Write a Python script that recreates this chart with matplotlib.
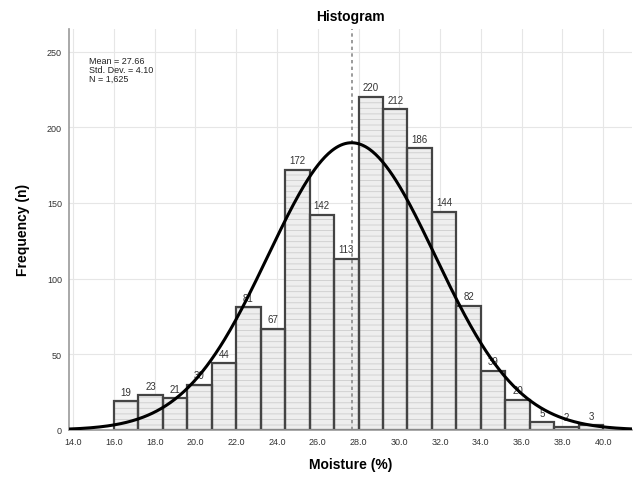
import numpy as np
import matplotlib
matplotlib.use("Agg")
import matplotlib.pyplot as plt

plt.rcParams['font.family'] = ['Liberation Sans', 'DejaVu Sans']
plt.rcParams['hatch.linewidth'] = 0.6

bin_start = 16.0
bin_width = 1.2
counts = [19, 23, 21, 30, 44, 81, 67, 172, 142, 113, 220, 212, 186, 144, 82, 39, 20, 5, 2, 3]
mean = 27.66
std = 4.10
n = 1625
xticks = [14.0, 16.0, 18.0, 20.0, 22.0, 24.0, 26.0, 28.0, 30.0, 32.0, 34.0, 36.0, 38.0, 40.0]
yticks = [0, 50, 100, 150, 200, 250]

fig = plt.figure(figsize=(6.33, 4.81), dpi=100)
ax = fig.add_axes([0.109, 0.104, 0.889, 0.834])

edges = bin_start + bin_width * np.arange(len(counts) + 1)
lefts = edges[:-1]
# hatched light fill
ax.bar(lefts, counts, width=bin_width, align='edge', facecolor='#eeeeee',
       edgecolor='#cdcdcd', linewidth=0, hatch='---', zorder=2)
# outlines
ax.bar(lefts, counts, width=bin_width, align='edge', facecolor='none',
       edgecolor='#444444', linewidth=1.6, zorder=2.5)
for l, c in zip(lefts, counts):
    ax.text(l + bin_width / 2, c + 3, str(c), ha='center', va='bottom',
            fontsize=7, color='#333333', zorder=3)

xs = np.linspace(13.8, 41.4, 500)
ys = n * bin_width / (std * np.sqrt(2 * np.pi)) * np.exp(-0.5 * ((xs - mean) / std) ** 2)
ax.plot(xs, ys, color='black', linewidth=2.2, zorder=4)

ax.axvline(mean, color='#8a8a8a', linestyle=(0, (2, 2)), linewidth=1.2, zorder=3)

ax.set_xlim(13.8, 41.4)
ax.set_ylim(0, 265)
ax.set_xticks(xticks)
ax.set_xticklabels([f"{t:.1f}" for t in xticks])
ax.set_yticks(yticks)
ax.tick_params(axis='both', length=0, labelsize=6.5, labelcolor='#333333', pad=5)
ax.grid(True, color='#e6e6e6', linewidth=0.8, zorder=0)
ax.set_axisbelow(True)
for s in ['top', 'right']:
    ax.spines[s].set_visible(False)
ax.spines['left'].set_color('#999999')
ax.spines['left'].set_linewidth(1.2)
ax.spines['bottom'].set_color('#999999')
ax.spines['bottom'].set_linewidth(1.2)

ax.text(14.8, 247, f"Mean = {mean:.2f}\nStd. Dev. = {std:.2f}\nN = {n:,}",
        fontsize=6.5, va='top', ha='left', color='#222222', linespacing=1.0)

ax.set_title("Histogram", fontsize=10, fontweight='bold', pad=6)
ax.set_xlabel("Moisture (%)", fontsize=10, fontweight='bold', labelpad=8)
ax.set_ylabel("Frequency (n)", fontsize=10, fontweight='bold', labelpad=12)

fig.savefig("out.png", dpi=100)
